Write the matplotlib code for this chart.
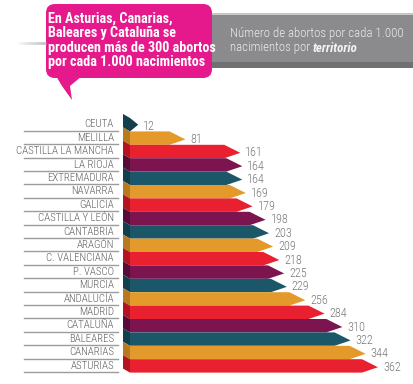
import matplotlib
matplotlib.use("Agg")
import matplotlib.pyplot as plt
from matplotlib.patches import Polygon, FancyBboxPatch, Rectangle
from matplotlib import font_manager

regiones = ["CEUTA", "MELILLA", "CASTILLA LA MANCHA", "LA RIOJA", "EXTREMADURA",
            "NAVARRA", "GALICIA", "CASTILLA Y LEÓN", "CANTABRIA", "ARAGÓN",
            "C. VALENCIANA", "P. VASCO", "MURCIA", "ANDALUCÍA", "MADRID",
            "CATALUÑA", "BALEARES", "CANARIAS", "ASTURIAS"]
abortos = [12, 81, 161, 164, 164, 169, 179, 198, 203, 209,
           218, 225, 229, 256, 284, 310, 322, 344, 362]

colores = ["#1c5669", "#e39a2b", "#e8202f", "#7c1450"]
oscuros = ["#133f4d", "#b77a1f", "#b3141f", "#560c37"]

nombres = set(f.name for f in font_manager.fontManager.ttflist)
fuente = "DejaVu Sans"
for f in ["Roboto Condensed", "Archivo Narrow", "Asap Condensed", "Barlow Condensed"]:
    if f in nombres:
        fuente = f
        break
plt.rcParams["font.family"] = [fuente, "DejaVu Sans"]

W, H = 414, 384
fig = plt.figure(figsize=(W / 100, H / 100), dpi=100)

# eje de barras: 0 en x=130 px, escala 0.685 px por unidad
k = 0.685
x0 = 130
paso = 13.4
y_c0 = 124.7
ax = fig.add_axes([0, 0, 1, 1])
ax.set_xlim(-x0 / k, (W - x0) / k)
ax.set_ylim((H - y_c0) / paso, -y_c0 / paso)
ax.axis("off")

punta = 16 / k
cara = 7 / k
sube = 0.3
for i, (reg, v) in enumerate(zip(regiones, abortos)):
    c = colores[i % 4]
    d = oscuros[i % 4]
    top, bot = i - 0.5, i + 0.5
    cuerpo = max(0, v - punta)
    if v <= punta:
        pts = [(-cara, top - sube), (0, top), (v, i), (0, bot), (-cara, bot - sube)]
        ax.add_patch(Polygon(pts, closed=True, fc=d, ec="none"))
    else:
        pts = [(0, top), (cuerpo, top), (v, i + 0.1), (cuerpo, bot), (0, bot)]
        ax.add_patch(Polygon(pts, closed=True, fc=c, ec="none"))
        lado = [(-cara, top - sube), (0, top), (0, bot), (-cara, bot - sube)]
        ax.add_patch(Polygon(lado, closed=True, fc=d, ec="none"))
    ax.text(v + 5 / k, i + 0.1, str(v), fontsize=8.8, color="#7a7a7a",
            fontweight="light", ha="left", va="center")
    ax.text(-16 / k, i - 0.02, reg, fontsize=7.8, color="#5e5e5e",
            fontweight="light", ha="right", va="center")
    ax.plot([-106 / k, -12 / k], [bot - 0.05, bot - 0.05], color="#9c9c9c", lw=1)

# cabecera en pixeles
hx = fig.add_axes([0, 0, 1, 1], facecolor="none")
hx.set_xlim(0, W)
hx.set_ylim(H, 0)
hx.axis("off")

for j in range(30):
    hx.plot([16 + j, 17 + j], [43, 43], color="#b0b0b0", lw=2,
            alpha=j / 30, solid_capstyle="butt")
hx.add_patch(Rectangle((212, 14), W - 212, 54, fc="#8b8b8d", ec="none"))
hx.add_patch(Rectangle((212, 62), W - 212, 6, fc="#707072", ec="none"))
hx.add_patch(Rectangle((212, 13), W - 212, 1.5, fc="#c8c8c8", ec="none"))

hx.add_patch(FancyBboxPatch((50, 8), 158, 66, boxstyle="round,pad=4,rounding_size=9",
                            fc="#e5198c", ec="none"))
hx.add_patch(Polygon([(56, 76), (62, 86), (72, 100), (70, 86), (82, 76)],
                     closed=True, fc="#e5198c", ec="none"))

lineas = ["En Asturias, Canarias,", "Baleares y Cataluña se",
          "producen más de 300 abortos", "por cada 1.000 nacimientos"]
for j, t in enumerate(lineas):
    hx.text(48, 19 + j * 14.4, t, fontsize=10.2, color="white", fontweight="bold",
            ha="left", va="center")

hx.text(230, 33, "Número de abortos por cada 1.000", fontsize=9.3,
        color="#ececec", fontweight="light", ha="left", va="center")
t1 = hx.text(230, 48, "nacimientos por ", fontsize=9.3, color="#ececec",
             fontweight="light", ha="left", va="center")
hx.annotate("territorio", xy=(1, 0), xycoords=t1, fontsize=9.3, color="#f4f4f4",
            fontweight="bold", fontstyle="italic", ha="left", va="bottom")

fig.savefig("out.png", dpi=100)
